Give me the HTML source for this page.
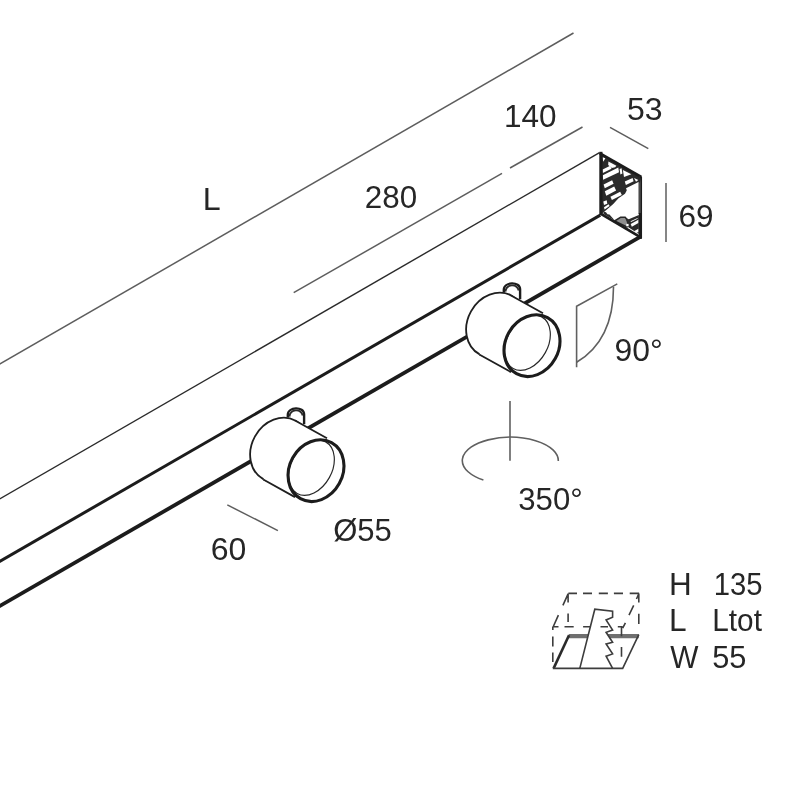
<!DOCTYPE html>
<html>
<head>
<meta charset="utf-8">
<title>Track spotlight dimensions</title>
<style>
html,body{margin:0;padding:0;background:#fff;}
body{width:796px;height:800px;overflow:hidden;font-family:"Liberation Sans",sans-serif;}
svg{display:block;}
text{font-family:"Liberation Sans",sans-serif;font-size:32px;fill:#262626;}
svg{filter:grayscale(1);}
.dim{stroke:#5a5e60;stroke-width:1.5;fill:none;stroke-linecap:butt;}
.sym{stroke:#5c6163;stroke-width:1.6;fill:none;stroke-linecap:butt;}
.thin{stroke:#2a2a2a;stroke-width:1.4;fill:none;}
.thick{stroke:#1c1c1c;stroke-width:3.0;fill:none;stroke-linecap:butt;}
.thick2{stroke:#1c1c1c;stroke-width:3.8;fill:none;stroke-linecap:butt;}
</style>
</head>
<body>
<svg width="796" height="800" viewBox="0 0 796 800">
<rect width="796" height="800" fill="#ffffff"/>

<!-- dimension lines -->
<g class="dim">
<line x1="-2" y1="365.1" x2="573.5" y2="33"/>
<line x1="293.7" y1="292.7" x2="502" y2="173.4"/>
<line x1="510" y1="168" x2="582.5" y2="127"/>
<line x1="610" y1="127.4" x2="648.3" y2="148.7"/>
<line x1="666" y1="183" x2="666" y2="242"/>
<line x1="227.3" y1="504.9" x2="277.9" y2="530.6"/>
</g>

<!-- rail -->
<g id="rail">
<line class="thin" x1="-2" y1="499.95" x2="599.5" y2="152.6"/>
<line class="thick" x1="-2" y1="562.4" x2="600.3" y2="215.1"/>
<line class="thick2" x1="-2" y1="607.0" x2="641" y2="236.4"/>
</g>

<!-- end face -->
<g id="endface">
<polygon points="599.5,152.6 641.3,176.4 641.3,238.3 600.7,214.1" fill="#fff" stroke="none"/>
<!-- dark hatched zone -->
<g transform="translate(0 0.7)">
<polygon points="600,153 641,176.6 640,181.6 627.5,188.4 625,193 618.5,197.5 613,203.5 606,209.5 600.5,214" fill="#2b2b2b"/>
<g fill="#fff">
<polygon points="602.6,156.6 605.4,157.6 603.2,161"/>
<polygon points="608.4,160.7 616.4,165 615.2,166.5 611.9,167.3 608.2,164.2"/>
<polygon points="602.6,168.9 610.2,165.1 611.5,168 602.8,172.4"/>
<polygon points="602.8,174.5 618.3,166.9 619,171.5 603.1,179.1"/>
<polygon points="603.6,183.9 612.1,179.5 613.6,183 604.8,187.5"/>
<polygon points="604.8,190.6 614.2,185.9 616.1,189.8 606.3,195"/>
<polygon points="610.4,196.1 620.2,191 621.8,194.2 611.9,199.4"/>
<polygon points="603.3,200.9 606.7,199.6 607.3,203 604,204.3"/>
<polygon points="604,206.5 608.6,203.6 609.6,205.4 604.6,208.8"/>
<polygon points="622.9,169.2 631.4,173.5 624,176.2"/>
<polygon points="624.8,180.9 632.6,177.3 633.6,180.6 625.9,184.3"/>
<polygon points="626,187.5 639,181 639,183.6 626.9,189.9"/>
<polygon points="634,177.3 638.4,179.3 636,181"/>
<polygon points="619.6,168.3 621.6,167.5 622.4,172.9 620.4,173.7"/>
</g>
</g>
<!-- bottom right detail -->
<polygon points="603.5,211.6 606,212.3 607.5,214.2 609.5,214.4 611,216.3 614.8,220.6 603.5,214" fill="#2b2b2b"/>
<polygon points="614.6,221 620.8,217.2 625.2,217.2 630,224.6 627,227" fill="#8d8f8f" stroke="#262626" stroke-width="1.5" stroke-linejoin="round"/>
<polygon points="625.6,217.6 628.7,219.3 638.9,215 638.9,234 628,227" fill="#2b2b2b"/>
<g fill="#fff">
<polygon points="630.7,224.1 638.4,219.7 638.4,222.9 631.8,226.8"/>
<polygon points="634.4,231 638.4,228.8 638.4,231.9 636.2,233.1"/>
<polygon points="626.3,223.9 628.6,223.9 628.6,226.3 626.3,226.3"/>
<polygon points="630.5,221.2 637.5,217.9 637.7,218.8 631,222"/>
</g>
<!-- outline -->
<path d="M600.9,151.8 V215" stroke="#1c1c1c" stroke-width="3.2" fill="none"/>
<path class="thick" d="M599.6,153.2 L641.3,177" style="stroke-width:2.6"/>
<path d="M639.2,176 V214" stroke="#2a2a2a" stroke-width="1.3" fill="none"/>
<path d="M640.4,213 V238.6" stroke="#1c1c1c" stroke-width="3.2" fill="none"/>
<path d="M641.1,176.5 V238.5" stroke="#1c1c1c" stroke-width="1.9" fill="none"/>
<path class="thick" d="M600.5,213.6 L641.2,237.6" style="stroke-width:2.8"/>
</g>

<!-- spotlight template -->
<defs>
<g id="spot">
  <!-- stem -->
  <path d="M503.4,289.5 V296 L520.3,304 V288.5 Z" fill="#fff" stroke="none"/>
  <path d="M503.8,292.5 V290 C503.8,281.4 520.1,281.2 520.1,289.5 V299.2" fill="#fff" stroke="#1c1c1c" stroke-width="2.4"/>
  <path d="M505.4,291.6 C506.5,283.6 516.8,283.4 518.7,290.6" fill="none" stroke="#2a2a2a" stroke-width="1.9"/>
  <!-- body -->
  <ellipse cx="495.5" cy="324.9" rx="28" ry="33.4" transform="rotate(29 495.5 324.9)" fill="#fff" stroke="#1f1f1f" stroke-width="1.8"/>
  <polygon points="511.7,296 548.2,316.5 515.8,374.9 479.3,354.4" fill="#fff"/>
  <path d="M511,295.5 L543,313.3 M479.3,354.5 L511,372.1" stroke="#1f1f1f" stroke-width="1.8" fill="none"/>
  <!-- front ellipse -->
  <ellipse cx="532" cy="345.7" rx="26.6" ry="32" transform="rotate(29 532 345.7)" fill="#fff" stroke="none"/>
  <g clip-path="url(#frontclip)"><ellipse cx="527.4" cy="342.7" rx="20.5" ry="29.5" transform="rotate(29 527.4 342.7)" fill="none" stroke="#2a2a2a" stroke-width="1.2"/></g>
  <ellipse cx="532" cy="345.7" rx="26.6" ry="32" transform="rotate(29 532 345.7)" fill="none" stroke="#1c1c1c" stroke-width="3.1"/>
</g>
<clipPath id="frontclip"><ellipse cx="532" cy="345.7" rx="26.6" ry="32" transform="rotate(29 532 345.7)"/></clipPath>
</defs>
<use href="#spot"/>
<use href="#spot" transform="translate(-216 125)"/>

<!-- 90 degree symbol -->
<g class="sym">
<path d="M576.6,367.3 V306.2 L617.3,283.9"/>
<path d="M613.5,286.9 Q613.5,340 576.6,362.3"/>
</g>

<!-- 350 degree symbol -->
<g class="sym">
<line x1="510" y1="401" x2="510" y2="460.8"/>
<path d="M558.3,461 A48,23.4 0 1 0 483.4,480"/>
</g>

<!-- legend icon -->
<g id="legend" fill="none" stroke="#3a3e3e" stroke-width="1.6">
<path d="M568.7,636.1 H638.8" stroke="#6a7070" stroke-width="4.2"/>
<path d="M579.8,668.4 L594.8,609.2 L612.6,611.2 L612.6,617.3 L606.1,619.9 L612.6,630 L606.1,632.3 L612.6,642.2 L606.1,644 L612.6,653.9 L606.1,656.2 L612.6,668.4 Z" fill="#fff" stroke="none"/>
<path d="M568.4,593.4 L577.0,593.4 M583.0,593.4 L592.0,593.4 M598.8,593.4 L607.9,593.4 M613.9,593.4 L623.0,593.4 M629.7,593.4 L639.1,593.4 M568.1,593.4 L568.1,602.4 M568.1,613.4 L568.1,622.0 M638.8,593.4 L638.8,602.4 M638.8,613.7 L638.8,624.0 M568.1,593.8 L562.9,605.4 M558.4,615.2 L553.1,627.0 M638.8,593.8 L636.5,599.0 M633.7,605.4 L629.0,615.2 M625.4,622.8 L622.7,628.1 M552.8,626.7 H558.5 M564.5,626.7 H573.7 M583.1,626.7 H590.4 M600.5,626.7 H608 M617.8,626.7 H622.5 M552.8,626.7 V630 M552.8,636.5 V646.5 M552.8,652.5 V662  M621.5,626.7 V636.3 M621.5,646.9 V656.7"/>
<path d="M569,635.2 L553.6,668.4" stroke="#2a2a2a" stroke-width="2.6"/>
<path d="M552.8,668.4 H622.7 L638.8,634.6"/>
<path d="M579.8,668.4 L594.8,609.2 L612.6,611.2 L612.6,617.3 L606.1,619.9 L612.6,630 L606.1,632.3 L612.6,642.2 L606.1,644 L612.6,653.9 L606.1,656.2 L612.6,668.4"/>
</g>

<!-- text -->
<g id="labels">
<text transform="translate(202.65 210.20) scale(1.0064 1)">L</text>
<text transform="translate(364.80 208.10) scale(0.9799 1)">280</text>
<text transform="translate(504.00 126.90) scale(0.9851 1)">140</text>
<text transform="translate(626.95 119.60) scale(1.0006 1)">53</text>
<text transform="translate(678.40 226.80) scale(0.9855 1)">69</text>
<text transform="translate(614.50 360.90) scale(0.9979 1)">90°</text>
<text transform="translate(518.25 509.90) scale(0.9740 1)">350°</text>
<text transform="translate(210.75 560.00) scale(1.0006 1)">60</text>
<text transform="translate(333.15 541.10) scale(0.9700 1)">Ø55</text>
<text transform="translate(669.00 594.60) scale(0.9839 1)">H</text>
<text transform="translate(713.75 594.60) scale(0.9148 1)">135</text>
<text transform="translate(669.10 631.10) scale(0.9891 1)">L</text>
<text transform="translate(712.30 631.10) scale(0.9304 1)">Ltot</text>
<text transform="translate(670.25 667.70) scale(0.9334 1)">W</text>
<text transform="translate(712.15 667.70) scale(0.9624 1)">55</text>
</g>
</svg>
</body>
</html>
